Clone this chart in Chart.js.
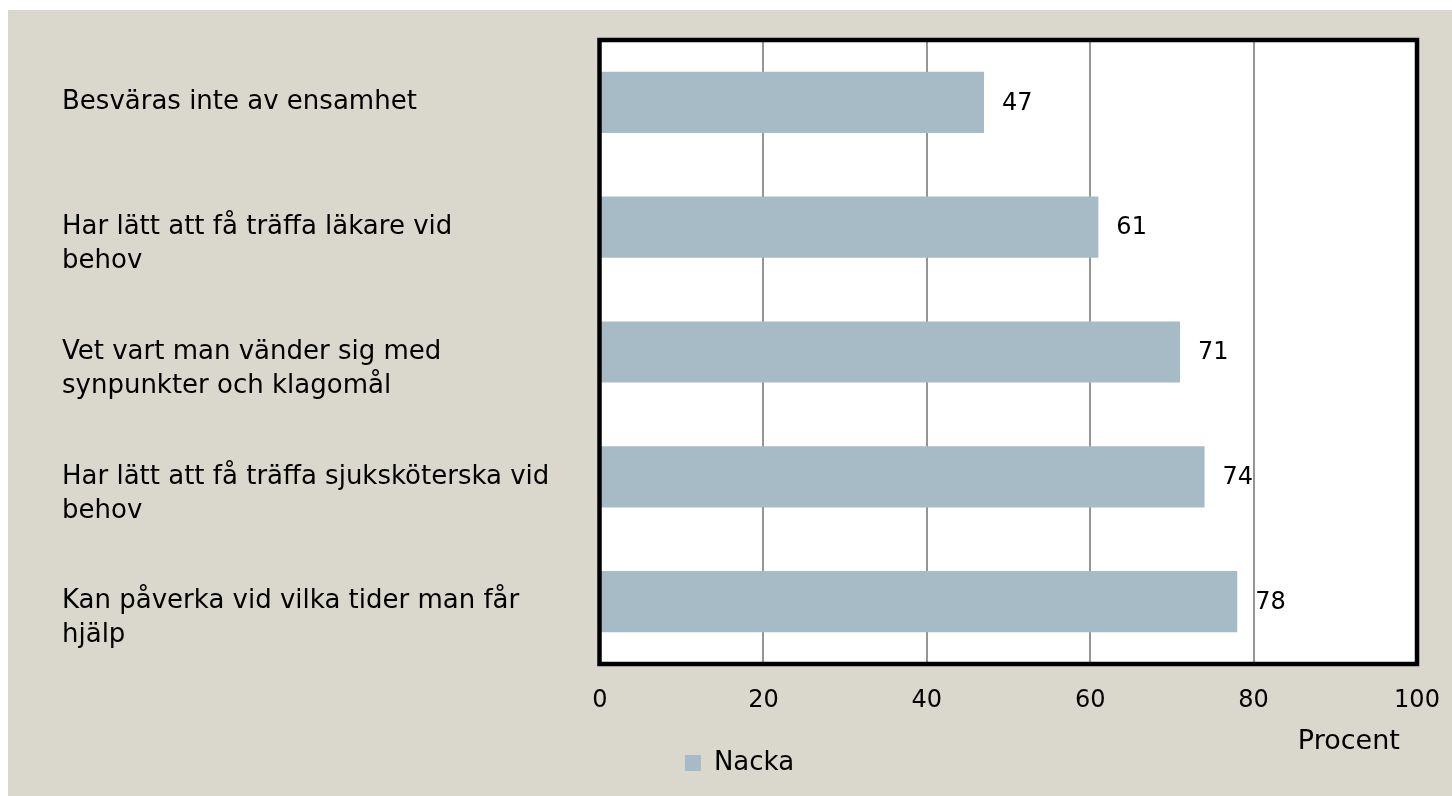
<!DOCTYPE html>
<html>
<head>
<meta charset="utf-8">
<script src="https://cdn.jsdelivr.net/npm/chart.js@4/dist/chart.umd.min.js"></script>
<style>
html,body{margin:0;padding:0;background:#fff;}
#wrap{width:1452px;height:796px;position:relative;}
</style>
</head>
<body>
<div id="wrap"><canvas id="c"></canvas></div>
<script>
const categories = [
  ["Besväras inte av ensamhet"],
  ["Har lätt att få träffa läkare vid", "behov"],
  ["Vet vart man vänder sig med", "synpunkter och klagomål"],
  ["Har lätt att få träffa sjuksköterska vid", "behov"],
  ["Kan påverka vid vilka tider man får", "hjälp"]
];
const seriesName = "Nacka";
const values = [47, 61, 71, 74, 78];
const xTicks = [0, 20, 40, 60, 80, 100];
const axisTitle = "Procent";

const FONT = "'DejaVu Sans', sans-serif";
const BEIGE = '#DAD8CC';
const BAR = '#A7BBC6';

const bgPlugin = {
  id: 'bg',
  beforeDraw(chart) {
    const ctx = chart.ctx, a = chart.chartArea;
    ctx.save();
    ctx.fillStyle = '#ffffff';
    ctx.fillRect(0, 0, chart.width, chart.height);
    ctx.fillStyle = BEIGE;
    ctx.fillRect(8, 10, chart.width - 8, chart.height - 10);
    ctx.fillStyle = '#ffffff';
    ctx.fillRect(a.left, a.top, a.right - a.left, a.bottom - a.top);
    ctx.restore();
  },
  afterDatasetsDraw(chart) {
    const ctx = chart.ctx;
    const meta = chart.getDatasetMeta(0);
    ctx.save();
    ctx.font = '24px ' + FONT;
    ctx.fillStyle = '#000';
    ctx.textAlign = 'left';
    ctx.textBaseline = 'middle';
    meta.data.forEach((el, i) => {
      ctx.fillText(String(chart.data.datasets[0].data[i]), el.x + 18, el.y + 1);
    });
    ctx.restore();
  },
  afterDraw(chart) {
    const ctx = chart.ctx, a = chart.chartArea;
    ctx.save();
    ctx.strokeStyle = '#000';
    ctx.lineWidth = 4.5;
    ctx.lineJoin = 'miter';
    ctx.strokeRect(a.left - 0.5, a.top, a.right - a.left + 0.5, a.bottom - a.top);
    ctx.restore();
  }
};

new Chart(document.getElementById('c'), {
  type: 'bar',
  data: {
    labels: categories,
    datasets: [{
      label: seriesName,
      data: values,
      backgroundColor: BAR,
      borderWidth: 0,
      categoryPercentage: 0.7,
      barPercentage: 0.7
    }]
  },
  options: {
    indexAxis: 'y',
    responsive: true,
    maintainAspectRatio: false,
    animation: false,
    layout: { padding: { left: 62, top: 40, right: 35, bottom: 10 } },
    plugins: {
      tooltip: { enabled: false },
      legend: {
        position: 'bottom',
        align: 'center',
        labels: {
          boxWidth: 16, boxHeight: 16, padding: 0,
          color: '#000',
          font: { family: FONT, size: 26 }
        }
      }
    },
    scales: {
      x: {
        type: 'linear',
        min: 0, max: 100,
        afterBuildTicks(s) { s.ticks = xTicks.map(v => ({ value: v })); },
        afterFit(s) { s.height = 86; s.paddingLeft = 0; s.paddingRight = 0; },
        border: { display: false },
        grid: { color: '#959595', lineWidth: 2, drawTicks: false },
        ticks: {
          padding: 22,
          color: '#000',
          font: { family: FONT, size: 24 }
        },
        title: {
          display: true,
          text: axisTitle + '  ',
          align: 'end',
          color: '#000',
          font: { family: FONT, size: 27, lineHeight: 1 },
          padding: { top: 0, bottom: -5 }
        }
      },
      y: {
        type: 'category',
        afterFit(s) { s.width = 538; s.paddingTop = 0; s.paddingBottom = 0; },
        border: { display: false },
        grid: { display: false, drawTicks: false },
        ticks: {
          crossAlign: 'far',
          padding: 0,
          color: '#000',
          font: { family: FONT, size: 26, lineHeight: 1.31 },
          callback(v, i) {
            const l = categories[i];
            return l.length > 1 ? [''].concat(l) : l;
          }
        }
      }
    }
  },
  plugins: [bgPlugin]
});
</script>
</body>
</html>
